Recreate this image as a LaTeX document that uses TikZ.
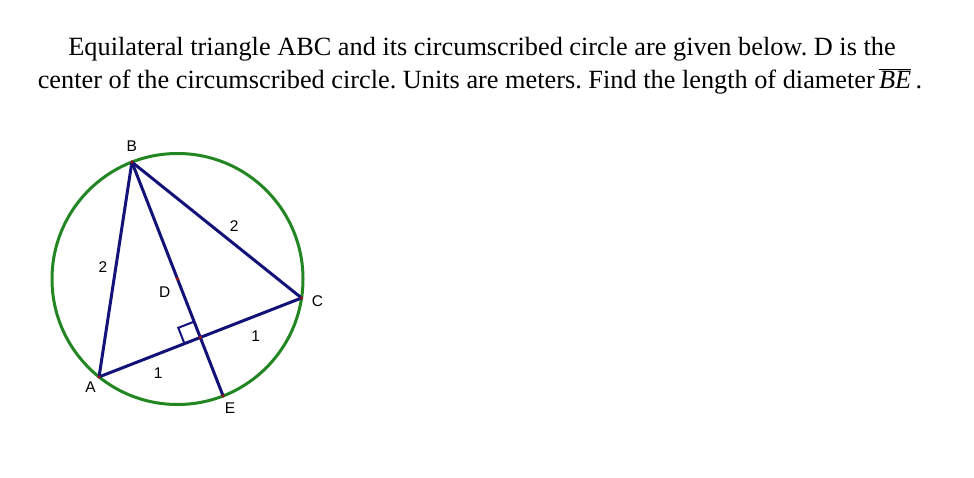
\documentclass[tikz,border=0pt]{standalone}
\usepackage{fontspec}
\setmainfont{Liberation Serif}
\setsansfont{Liberation Sans}
\usetikzlibrary{calc}
\frenchspacing

\definecolor{circgreen}{RGB}{34,134,34}
\definecolor{trinavy}{RGB}{18,18,120}
\definecolor{dotred}{RGB}{150,20,20}

\tikzset{
  side/.style={trinavy, line width=3pt, line cap=round},
  vlabel/.style={black, font=\sffamily\fontsize{15.5}{17}\selectfont, inner sep=0pt},
  prob/.style={font=\fontsize{26.3}{33}\selectfont, inner sep=0pt, anchor=base}
}

\begin{document}
\begin{tikzpicture}[x=1pt, y=1pt]
    % Fix the page to the size of the picture
    \fill[white] (0,0) rectangle (974,-477);
    \useasboundingbox (0,0) rectangle (974,-477);

    % Problem text
    \node[prob] (line1) at (482,-55) {Equilateral triangle ABC and its circumscribed circle are given below. D is the};
    \node[prob] (line2) at (480,-88) {center of the circumscribed circle. Units are meters. Find the length of diameter\,$\overline{\mbox{\textit{BE}}}$\,.};

    % Center and points on the circle
    \coordinate (D) at (177.5,-279);
    \coordinate (B) at ([shift={(111.3:125.5)}]D);
    \coordinate (C) at ([shift={(-8.7:125.5)}]D);
    \coordinate (A) at ([shift={(231.3:125.5)}]D);
    \coordinate (E) at ([shift={(291.3:125.5)}]D);
    \coordinate (F) at ($(A)!.5!(C)$);

    % Circumscribed circle
    \draw[circgreen, line width=3pt] (D) circle (125.5);

    % Right angle mark
    \coordinate (r1) at ($(F)!17pt!(B)$);
    \coordinate (r2) at ($(F)!17pt!(A)$);
    \draw[trinavy, line width=2pt] (r1) -- ($(r1)+(r2)-(F)$) -- (r2);

    % Triangle and diameter
    \draw[side] (A) -- (B) node[vlabel, midway, xshift=-12.5pt, yshift=2pt] {2};
    \draw[side] (B) -- (C) node[vlabel, pos=.55, xshift=9pt, yshift=11pt] {2};
    \draw[side] (A) -- (F) node[vlabel, pos=.52, xshift=6.5pt, yshift=-17pt] {1};
    \draw[side] (F) -- (C) node[vlabel, pos=.48, xshift=6.7pt, yshift=-17.6pt] {1};
    \draw[side] (B) -- (E);

    % Points
    \foreach \p in {A,B,C,D,E,F}
        \fill[dotred] (\p) circle (1.8pt);

    % Point labels
    \node[vlabel] (labB) at ([shift={(0,16)}]B) {B};
    \node[vlabel] (labC) at ([shift={(16,-3.4)}]C) {C};
    \node[vlabel] (labA) at ([shift={(-8.4,-10)}]A) {A};
    \node[vlabel] (labE) at ([shift={(7,-12.7)}]E) {E};
    \node[vlabel] (labD) at ([shift={(-12.7,-13)}]D) {D};
\end{tikzpicture}
\end{document}
